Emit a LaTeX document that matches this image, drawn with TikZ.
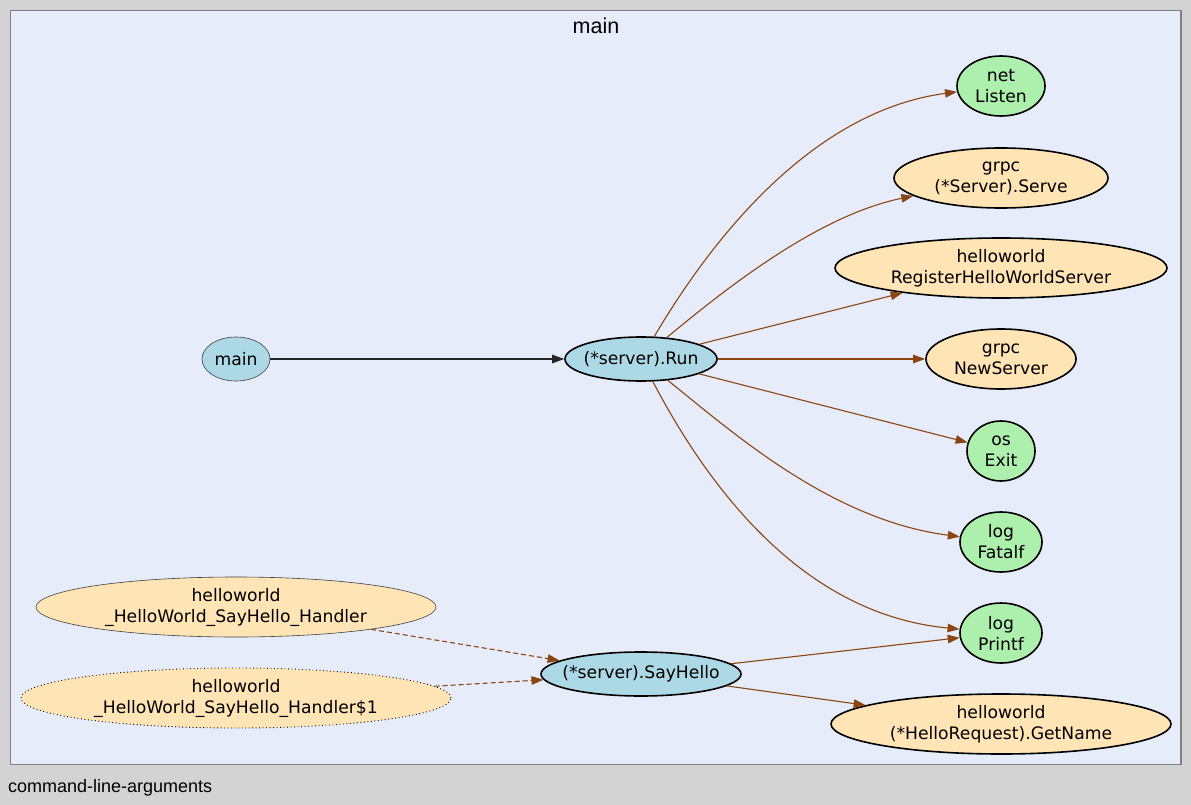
\documentclass[tikz,border=0pt]{standalone}
\usepackage{fontspec}
\setmainfont{DejaVu Sans}
\newfontfamily\labelfont{Liberation Sans}
\usetikzlibrary{arrows.meta,shapes.geometric}

\definecolor{pagegray}{HTML}{D3D3D3}
\definecolor{clusterfill}{HTML}{E6ECFA}
\definecolor{clusterline}{HTML}{7F7F86}
\definecolor{pkgblue}{HTML}{ADD8E6}
\definecolor{extgreen}{HTML}{ADEFAD}
\definecolor{extorange}{HTML}{FFE4B5}
\definecolor{calledge}{HTML}{8B4513}

% label lines take no width, so the ellipse keeps its given size
\newcommand\fnline[1]{\makebox[0pt]{#1}}

\tikzset{
  fn/.style={ellipse, inner sep=0pt, align=center, text=black,
    font=\fontsize{17.2}{21}\selectfont, line width=1.6pt, draw=black},
  local/.style={fn, fill=pkgblue},
  stdlib/.style={fn, fill=extgreen},
  thirdparty/.style={fn, fill=extorange},
  thin border/.style={line width=0.6pt, draw=black!75},
  sz/.style 2 args={minimum width=#1pt, minimum height=#2pt},
  call/.style={draw=calledge, line width=1.1pt,
    -{Triangle[length=12pt,width=8.5pt]}, calledge},
  dyncall/.style={call, dash pattern=on 5pt off 3pt},
}

\begin{document}
\begin{tikzpicture}[x=1pt,y=-1pt]
  % page and package cluster
  \fill[pagegray] (0,0) rectangle (1191,805);
  \useasboundingbox (0,0) rectangle (1191,805);
  \filldraw[fill=clusterfill, draw=clusterline, line width=1.2pt] (10.5,10.5) rectangle (1181,764.5);
  \node[font=\labelfont\fontsize{21.5}{24}\selectfont] (title) at (596,26) {main};
  \node[font=\labelfont\fontsize{18}{21}\selectfont, anchor=west, inner sep=0pt] (pkg) at (8,788) {command-line-arguments};

  % functions of package main
  \node[local, thin border, sz={68}{44}] (main) at (236,359) {\fnline{main}};
  \node[local, sz={152}{44}] (run) at (641,359) {\fnline{(*server).Run}};
  \node[local, sz={200}{44}] (sayhello) at (641,674) {\fnline{(*server).SayHello}};

  % callees
  \node[stdlib, sz={88}{60}] (listen) at (1001,86) {\fnline{net}\\\fnline{Listen}};
  \node[thirdparty, sz={214}{60}] (serve) at (1001,178) {\fnline{grpc}\\\fnline{(*Server).Serve}};
  \node[thirdparty, sz={332}{60}] (register) at (1001,268) {\fnline{helloworld}\\\fnline{RegisterHelloWorldServer}};
  \node[thirdparty, sz={150}{60}] (newserver) at (1001,359) {\fnline{grpc}\\\fnline{NewServer}};
  \node[stdlib, sz={68}{60}] (exit) at (1001,451) {\fnline{os}\\\fnline{Exit}};
  \node[stdlib, sz={82}{60}] (fatalf) at (1001,542) {\fnline{log}\\\fnline{Fatalf}};
  \node[stdlib, sz={82}{60}] (printf) at (1001,633) {\fnline{log}\\\fnline{Printf}};
  \node[thirdparty, sz={340}{60}] (getname) at (1001,724) {\fnline{helloworld}\\\fnline{(*HelloRequest).GetName}};

  % callers of SayHello
  \node[thirdparty, thin border, sz={400}{60}] (handler) at (236,607) {\fnline{helloworld}\\\fnline{\_HelloWorld\_SayHello\_Handler}};
  \node[thirdparty, line width=0.9pt, dash pattern=on 0.9pt off 2.6pt, sz={430}{60}] (handler1) at (236,698) {\fnline{helloworld}\\\fnline{\_HelloWorld\_SayHello\_Handler\$1}};

  % calls
  \draw[line width=1.1pt, black!85, -{Triangle[length=12pt,width=8.5pt]}] (main) -- (run);
  \draw[call] (run) .. controls (720,225) and (820,110) .. (listen);
  \draw[call] (run) .. controls (730,285) and (820,215) .. (serve);
  \draw[call] (run) -- (register);
  \draw[call] (run) -- (newserver);
  \draw[call] (run) -- (exit);
  \draw[call] (run) .. controls (730,430) and (830,520) .. (fatalf);
  \draw[call] (run) .. controls (715,500) and (810,615) .. (printf);
  \draw[call] (sayhello) -- (printf);
  \draw[call] (sayhello) -- (getname);
  \draw[dyncall] (handler) -- (sayhello);
  \draw[dyncall] (handler1) -- (sayhello);
\end{tikzpicture}
\end{document}
